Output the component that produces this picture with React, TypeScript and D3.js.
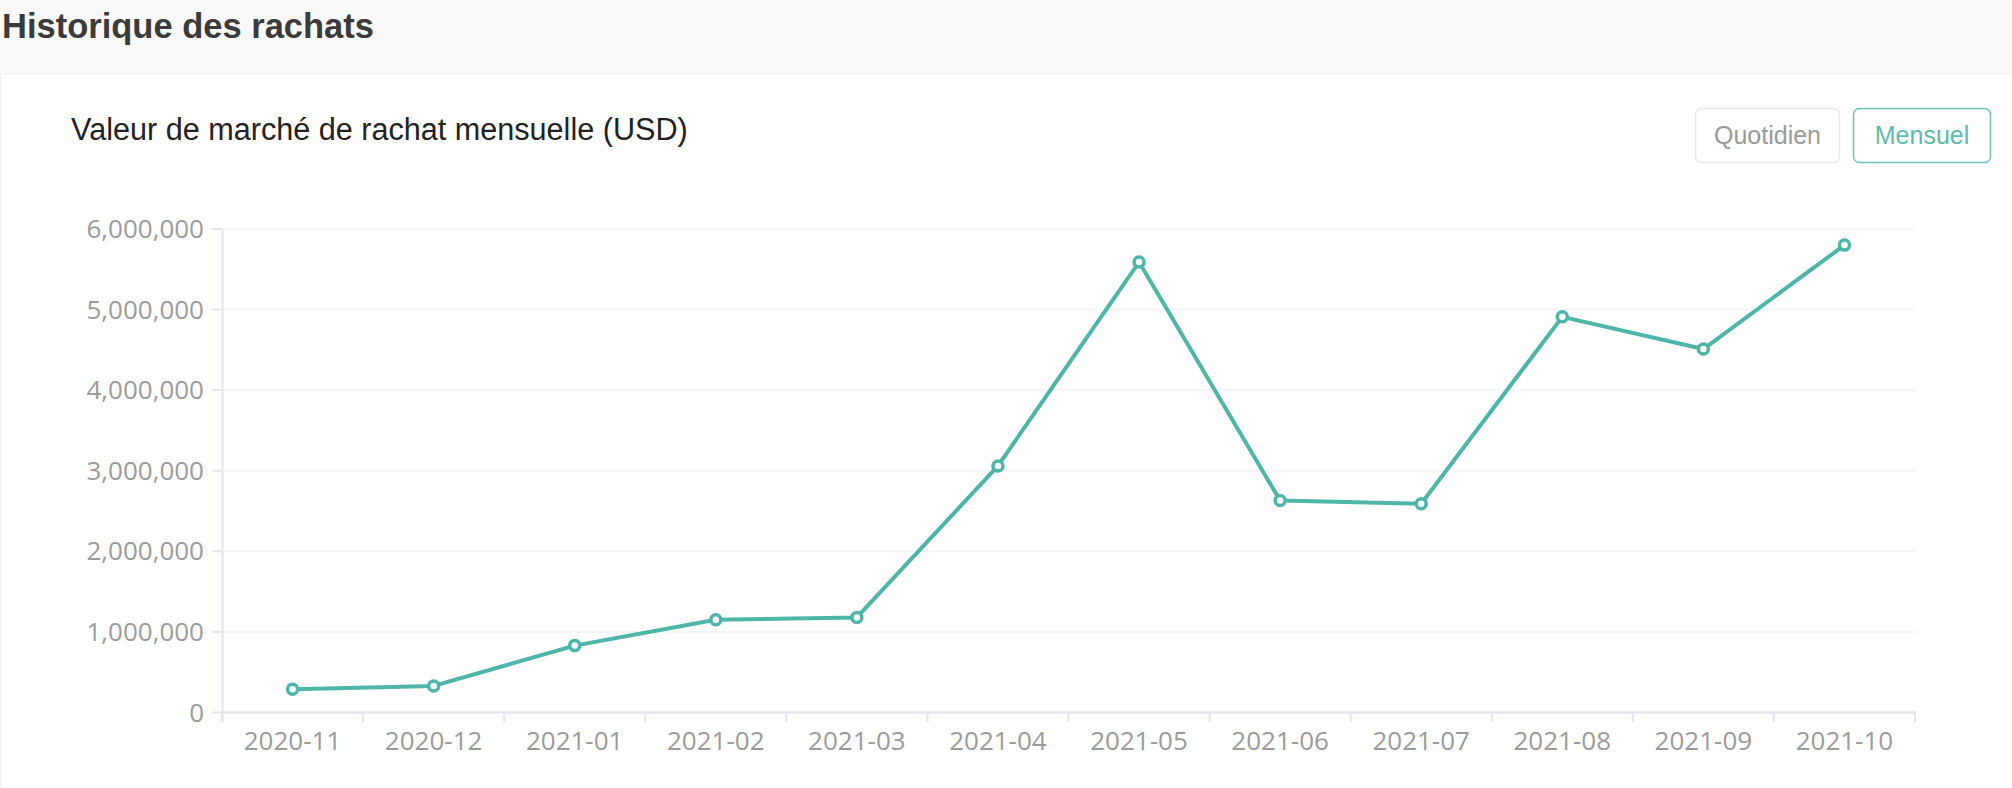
import * as d3 from 'd3'

const months = [
  '2020-11', '2020-12', '2021-01', '2021-02', '2021-03', '2021-04',
  '2021-05', '2021-06', '2021-07', '2021-08', '2021-09', '2021-10',
]
const buybackValues = [
  290000, 330000, 830000, 1150000, 1180000, 3060000,
  5590000, 2630000, 2590000, 4910000, 4510000, 5800000,
]
const yTicks = [0, 1000000, 2000000, 3000000, 4000000, 5000000, 6000000]

const W = 2012
const H = 788
const TEAL = '#4db6a8'
const AXIS = '#e3e6ee'
const LABEL_FONT = '"Open Sans", "Noto Sans", sans-serif'
const TEXT_FONT = '"Liberation Sans", Arial, sans-serif'

export default function App() {
  const x = d3.scaleBand<string>().domain(months).range([222, 1915])
  const y = d3.scaleLinear().domain([0, 6000000]).range([712.5, 229])
  const fmt = d3.format(',')

  const line = d3
    .line<number>()
    .x((_, i) => (x(months[i]) ?? 0) + x.bandwidth() / 2)
    .y((d) => y(d))

  const tickXs = [...months.map((m) => x(m) ?? 0), 1915]

  return (
    <div style={{ position: 'fixed', inset: 0, background: '#fff' }}>
      <svg width={W} height={H} style={{ display: 'block' }}>
        <rect x={0} y={0} width={W} height={74} fill="#f9f9f9" />
        <rect x={0.5} y={74} width={W} height={H} fill="#fff" stroke="#f0f0f0" />
        <text x={2} y={38} fontFamily={TEXT_FONT} fontWeight="bold" fontSize={34.5} fill="#3b3b3b">
          Historique des rachats
        </text>
        <text x={71} y={140} fontFamily={TEXT_FONT} fontSize={30.6} fill="#222">
          Valeur de marché de rachat mensuelle (USD)
        </text>

        {/* toggle buttons */}
        <rect x={1695.5} y={108.5} width={144} height={54} rx={6} fill="#fff" stroke="#e6e8ee" strokeWidth={1.5} />
        <text x={1767.5} y={144} textAnchor="middle" fontFamily={TEXT_FONT} fontSize={25} fill="#9a9a9a">
          Quotidien
        </text>
        <rect x={1853.5} y={108.5} width={137} height={54} rx={6} fill="#fff" stroke="#6cc4b7" strokeWidth={1.5} />
        <text x={1922} y={144} textAnchor="middle" fontFamily={TEXT_FONT} fontSize={25} fill="#5bbcae">
          Mensuel
        </text>

        {/* grid + y axis */}
        {yTicks.map((t) => (
          <g key={t}>
            {t > 0 && <line x1={222} x2={1915} y1={y(t)} y2={y(t)} stroke="#f4f5f9" strokeWidth={2} />}
            <line x1={212} x2={222} y1={y(t)} y2={y(t)} stroke={AXIS} strokeWidth={2} />
            <text
              x={204}
              y={y(t)}
              dy="0.35em"
              textAnchor="end"
              fontFamily={LABEL_FONT}
              fontSize={26}
              fill="#9b9b9b"
            >
              {fmt(t)}
            </text>
          </g>
        ))}
        <line x1={222.5} x2={222.5} y1={229} y2={722} stroke={AXIS} strokeWidth={2} />

        {/* x axis */}
        <line x1={222} x2={1916} y1={712.5} y2={712.5} stroke={AXIS} strokeWidth={2.5} />
        {tickXs.map((tx, i) => (
          <line key={i} x1={tx} x2={tx} y1={712} y2={722} stroke={AXIS} strokeWidth={2} />
        ))}
        {months.map((m) => (
          <text
            key={m}
            x={(x(m) ?? 0) + x.bandwidth() / 2}
            y={750}
            textAnchor="middle"
            fontFamily={LABEL_FONT}
            fontSize={26}
            fill="#9b9b9b"
          >
            {m}
          </text>
        ))}

        {/* series */}
        <path d={line(buybackValues) ?? ''} fill="none" stroke={TEAL} strokeWidth={4} strokeLinejoin="round" />
        {buybackValues.map((v, i) => (
          <circle
            key={months[i]}
            cx={(x(months[i]) ?? 0) + x.bandwidth() / 2}
            cy={y(v)}
            r={5}
            fill="#fff"
            stroke={TEAL}
            strokeWidth={3.5}
          />
        ))}
      </svg>
    </div>
  )
}
